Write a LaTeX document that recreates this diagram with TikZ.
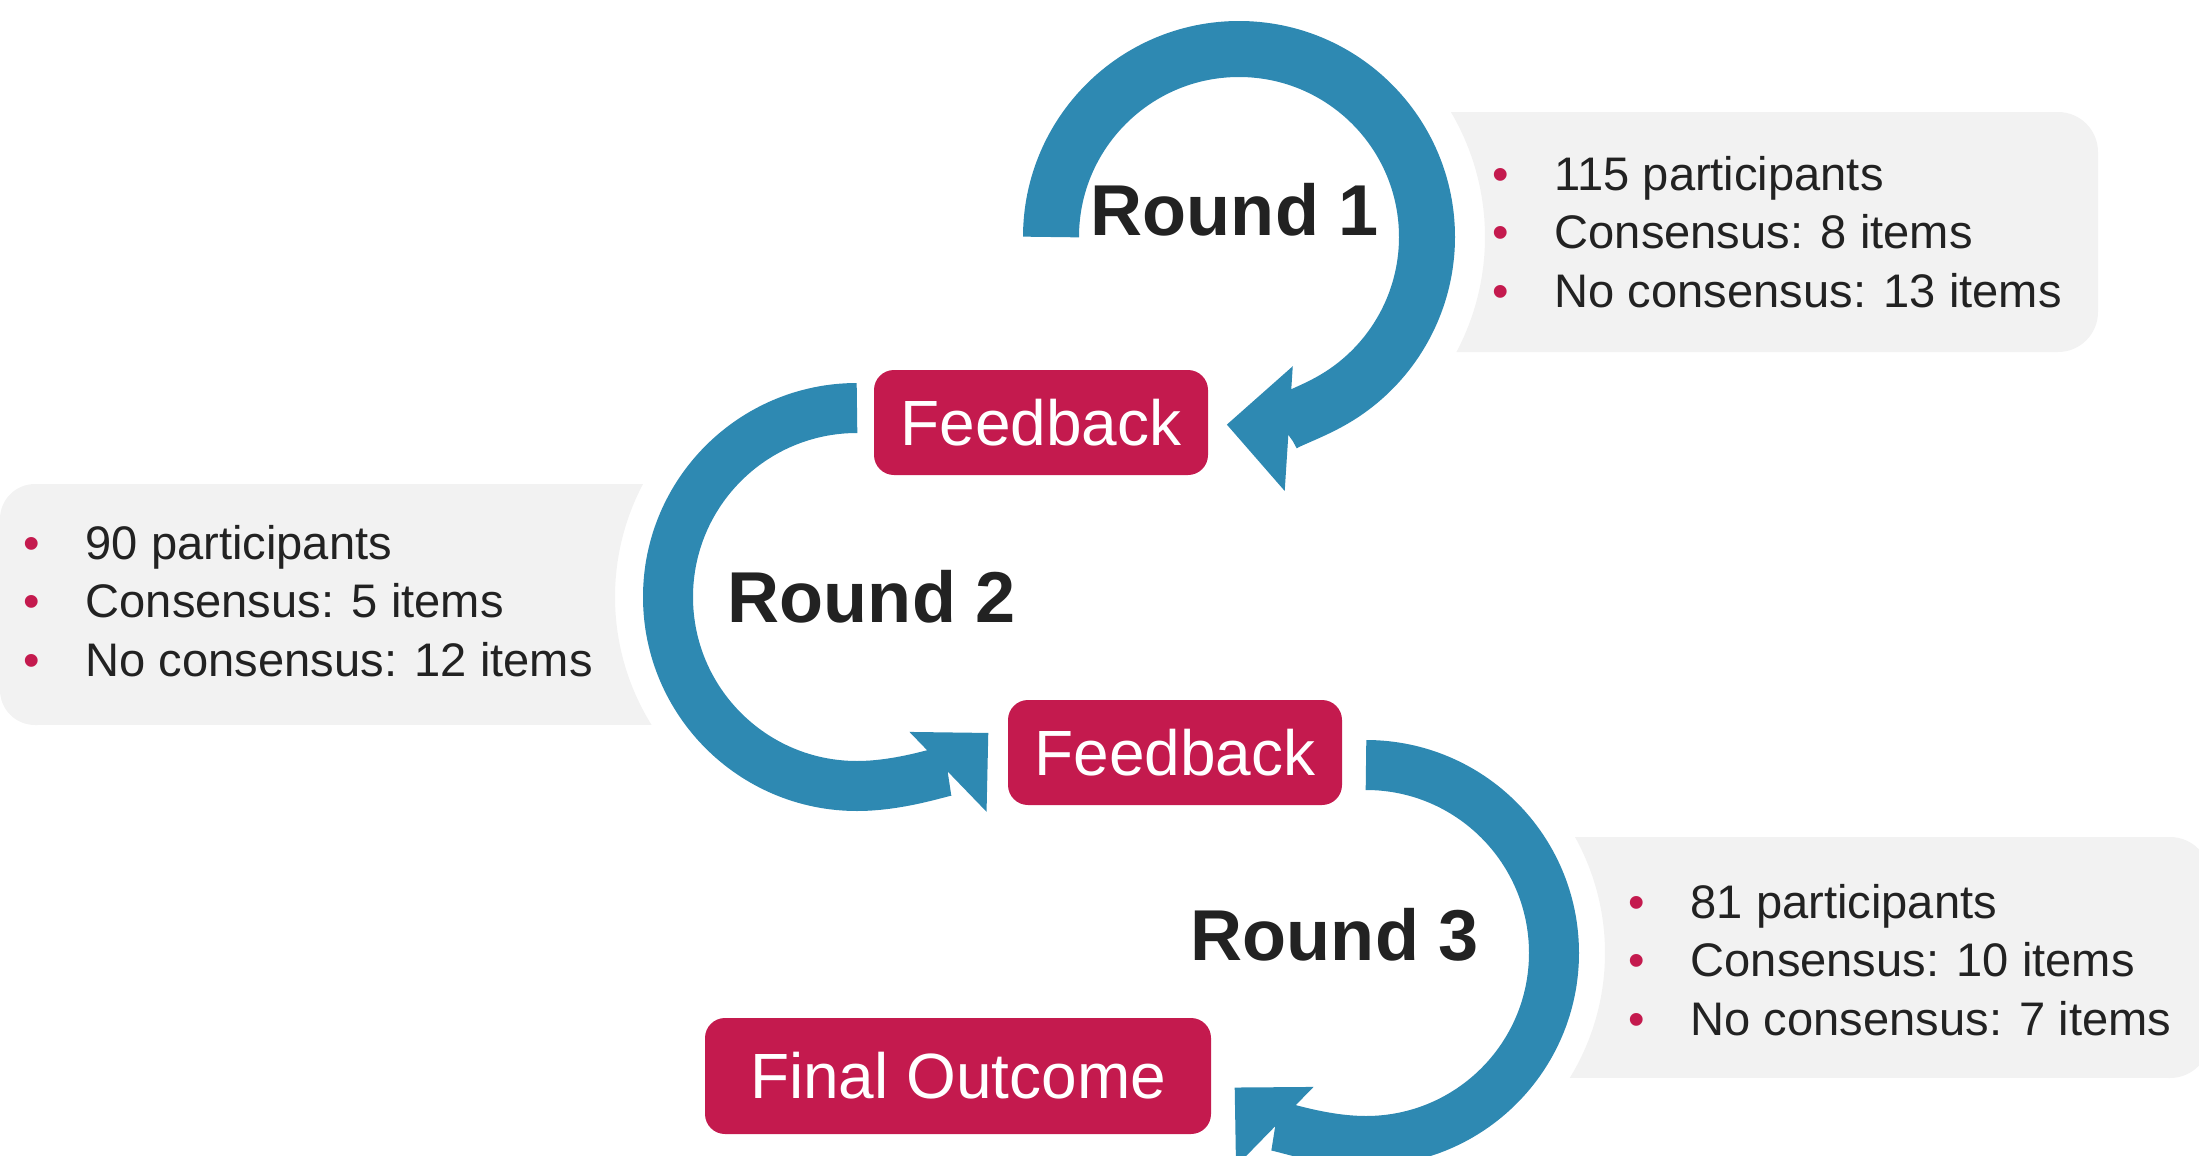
\documentclass[tikz,border=0pt]{standalone}
\usepackage{fontspec}
\setmainfont{Liberation Sans}
\usetikzlibrary{arrows.meta}

\definecolor{loopblue}{RGB}{46,137,178}
\definecolor{boxred}{RGB}{196,26,78}
\definecolor{panelgrey}{RGB}{242,242,242}
\definecolor{ink}{RGB}{34,34,34}

% bullet column of the result lists
\newcommand{\dotitem}{\makebox[6.2mm][l]{\textcolor{boxred}{\textbullet}}}

\begin{document}
\begin{tikzpicture}[x=0.1mm, y=0.1mm]
        \tikzstyle{roundarrow} = [draw=loopblue, line width=5mm, -{Triangle[length=5.6mm, width=11.1mm, line width=0pt]}]
        \tikzstyle{redbox} = [rectangle, fill=boxred, rounded corners=2mm, text=white, inner sep=0pt, minimum width=33.4mm, minimum height=10.5mm, font=\fontsize{18.2}{22}\selectfont]
        \tikzstyle{roundlabel} = [anchor=base, text=ink, inner sep=0pt, font=\fontsize{20.5}{24}\selectfont\bfseries]
        \tikzstyle{infotext} = [anchor=base west, text=ink, inner sep=0pt, font=\fontsize{13.4}{16.65}\selectfont]

        \useasboundingbox (0,0) rectangle (2199,1155);
        \clip (0,0) rectangle (2199,1155);

        % centres of the three loops
        \coordinate (c1) at (1239,918);
        \coordinate (c2) at (857,558);
        \coordinate (c3) at (1366,202);

        % grey panels, one side following the loop
        \fill[panelgrey] ([shift={(-27.9:246)}]c1) arc[start angle=-27.9, end angle=30.5, radius=246]
            [rounded corners=4mm] -- (2098,1043) -- (2098,803) [sharp corners] -- cycle;
        \fill[panelgrey] ([shift={(152.2:242)}]c2) arc[start angle=152.2, end angle=211.9, radius=242]
            [rounded corners=3.5mm] -- (0,430) -- (0,671) [sharp corners] -- cycle;
        \fill[panelgrey] ([shift={(-31.5:239)}]c3) arc[start angle=-31.5, end angle=29.0, radius=239]
            [rounded corners=4mm] -- (2210,318) -- (2210,77) [sharp corners] -- cycle;

        % loop arrows
        \draw[roundarrow, line width=5.6mm, -{Triangle[length=6.2mm, width=12.5mm, line width=0pt]}]
            ([shift={(180:188)}]c1) arc[start angle=180, end angle=-93.7, radius=188];
        \draw[roundarrow] ([shift={(90:189)}]c2) arc[start angle=90, end angle=314, radius=189];
        \draw[roundarrow] ([shift={(90:188)}]c3) arc[start angle=90, end angle=-134.3, radius=188];

        \node[redbox] (fb1) at (1041,732.5) {Feedback};
        \node[redbox] (fb2) at (1175,402.5) {Feedback};
        \node[redbox, minimum width=50.6mm, minimum height=11.6mm] (final) at (958,79) {Final Outcome};

        \node[roundlabel] (r1) at (1235,920) {Round 1};
        \node[roundlabel] (r2) at (872,533) {Round 2};
        \node[roundlabel] (r3) at (1335,195) {Round 3};

        \node[infotext] (r1info) at (1492,965) {\begin{tabular}[t]{@{}l@{}}
            \dotitem 115 participants\\ \dotitem Consensus: 8 items\\ \dotitem No consensus: 13 items\end{tabular}};
        \node[infotext] (r2info) at (23,596) {\begin{tabular}[t]{@{}l@{}}
            \dotitem 90 participants\\ \dotitem Consensus: 5 items\\ \dotitem No consensus: 12 items\end{tabular}};
        \node[infotext] (r3info) at (1628,237) {\begin{tabular}[t]{@{}l@{}}
            \dotitem 81 participants\\ \dotitem Consensus: 10 items\\ \dotitem No consensus: 7 items\end{tabular}};
\end{tikzpicture}
\end{document}
